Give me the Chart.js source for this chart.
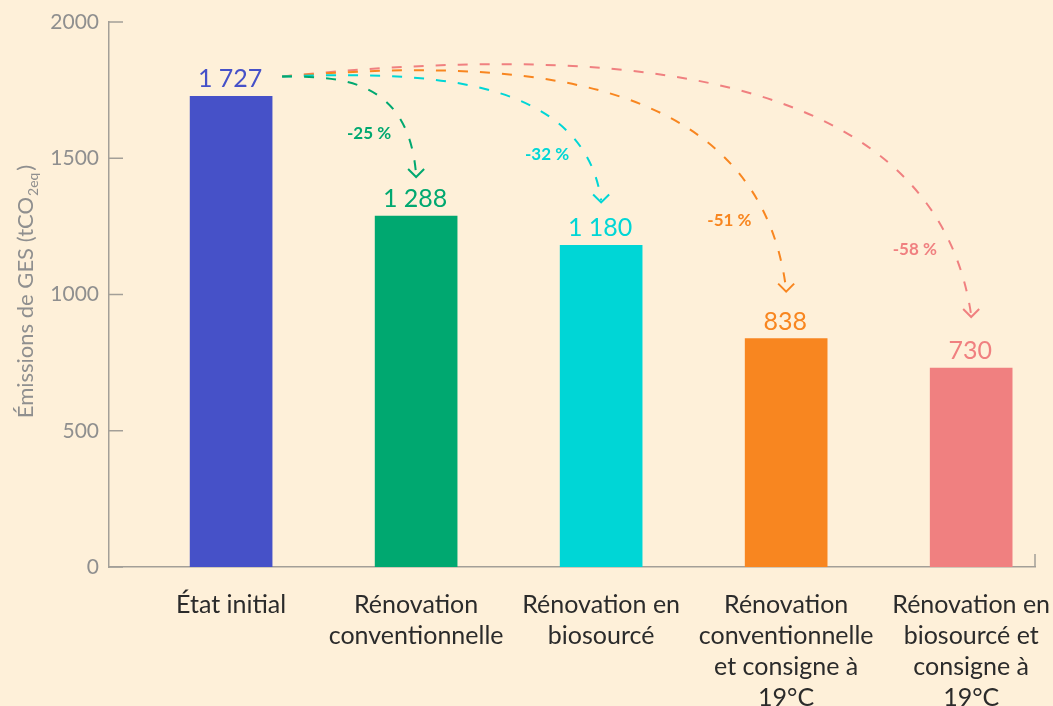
<!DOCTYPE html>
<html>
<head>
<meta charset="utf-8">
<script src="https://cdn.jsdelivr.net/npm/chart.js@4"></script>
<style>
  html, body { margin: 0; padding: 0; background: #fef0d9; }
  canvas { display: block; }
</style>
</head>
<body>
<canvas id="myChart" width="1053" height="706"></canvas>
<script>
const categories = [
    ['État initial'],
    ['Rénovation', 'conventionnelle'],
    ['Rénovation en', 'biosourcé'],
    ['Rénovation', 'conventionnelle', 'et consigne à', '19°C'],
    ['Rénovation en', 'biosourcé et', 'consigne à', '19°C'],
];
const emissions = [1727, 1288, 1180, 838, 730];
const barColors = ['#4651c8', '#00a870', '#00d6d6', '#f88620', '#f08080'];
const yTicks = [0, 500, 1000, 1500, 2000];
const arrowStart = 1800;

const FONT = 'Lato';
const gray = '#8f8f8f';
const axisGray = '#a39f98';

// label above each bar
const valueLabels = {
    id: 'valueLabels',
    afterDatasetsDraw(chart) {
        const ctx = chart.ctx;
        const meta = chart.getDatasetMeta(0);
        ctx.save();
        ctx.font = '25px ' + FONT;
        ctx.textAlign = 'center';
        ctx.textBaseline = 'alphabetic';
        meta.data.forEach((bar, i) => {
            ctx.fillStyle = barColors[i];
            const txt = emissions[i].toLocaleString('fr-FR').replace(/\s/g, ' ');
            ctx.fillText(txt, bar.x - 1, bar.y - 9);
        });
        ctx.restore();
    }
};

// dashed arrows from the initial state to each scenario
const arrows = {
    id: 'arrows',
    afterDatasetsDraw(chart) {
        const ctx = chart.ctx;
        const xs = chart.scales.x, ys = chart.scales.y;
        const meta = chart.getDatasetMeta(0);
        const sx = xs.getPixelForValue(0) + 51;
        const sy = ys.getPixelForValue(arrowStart);
        ctx.save();
        for (let i = emissions.length - 1; i >= 1; i--) {
            const ex = xs.getPixelForValue(i);
            const ey = meta.data[i].y - (35 + 4 * i);
            const dx = ex - sx;
            const rise = Math.max(0, 0.065 * (dx - 250));
            const p1 = [sx + 0.41 * dx, sy - rise];
            const p2 = [ex - 0.057 * dx, sy - rise];
            ctx.strokeStyle = barColors[i];
            ctx.lineWidth = 2;
            ctx.setLineDash([10, 12]);
            ctx.beginPath();
            ctx.moveTo(sx, sy);
            ctx.bezierCurveTo(p1[0], p1[1], p2[0], p2[1], ex, ey - 2);
            ctx.stroke();
            ctx.setLineDash([]);
            ctx.beginPath();
            ctx.moveTo(ex - 8, ey - 8);
            ctx.lineTo(ex, ey);
            ctx.lineTo(ex + 8, ey - 8);
            ctx.stroke();

            // percentage, left of the curve
            const ly = sy + (0.52 + 0.05 * i) * (ey - sy);
            let cx = ex;
            for (let t = 0; t <= 1; t += 0.002) {
                const u = 1 - t;
                const y = u*u*u*sy + 3*u*u*t*p1[1] + 3*u*t*t*p2[1] + t*t*t*ey;
                if (y >= ly) {
                    cx = u*u*u*sx + 3*u*u*t*p1[0] + 3*u*t*t*p2[0] + t*t*t*ex;
                    break;
                }
            }
            const pct = Math.round((emissions[i] - emissions[0]) / emissions[0] * 100);
            ctx.font = 'bold 17px ' + FONT;
            ctx.fillStyle = barColors[i];
            ctx.textAlign = 'right';
            ctx.textBaseline = 'middle';
            ctx.fillText('-' + Math.abs(pct) + ' %', cx - 16, ly);
        }
        ctx.restore();
    }
};

// inward tick marks and axis title
const axisExtras = {
    id: 'axisExtras',
    afterDraw(chart) {
        const ctx = chart.ctx;
        const ys = chart.scales.y;
        const area = chart.chartArea;
        ctx.save();
        ctx.strokeStyle = axisGray;
        ctx.lineWidth = 1.5;
        ctx.beginPath();
        yTicks.forEach(v => {
            const y = ys.getPixelForValue(v);
            ctx.moveTo(area.left, y);
            ctx.lineTo(area.left + 14, y);
        });
        ctx.moveTo(area.right, area.bottom);
        ctx.lineTo(area.right, area.bottom - 13);
        ctx.stroke();

        // y title with subscript
        ctx.translate(33, (area.top + area.bottom) / 2 - 3);
        ctx.rotate(-Math.PI / 2);
        ctx.fillStyle = gray;
        ctx.textBaseline = 'alphabetic';
        ctx.textAlign = 'left';
        const main = 'Émissions de GES (tCO', sub = '2eq', end = ')';
        ctx.font = '22px ' + FONT;
        const w1 = ctx.measureText(main).width, w3 = ctx.measureText(end).width;
        ctx.font = '14px ' + FONT;
        const w2 = ctx.measureText(sub).width + 3;
        let x = -(w1 + w2 + w3) / 2;
        ctx.font = '22px ' + FONT;
        ctx.fillText(main, x, 0);
        ctx.font = '14px ' + FONT;
        ctx.fillText(sub, x + w1 + 1, 5);
        ctx.font = '22px ' + FONT;
        ctx.fillText(end, x + w1 + w2, 0);
        ctx.restore();
    }
};

const data = {
    datasets: [{
        data: emissions.map((v, i) => ({ x: i, y: v })),
        backgroundColor: barColors,
        barThickness: 82,
    }]
};

const config = {
    type: 'bar',
    data: data,
    options: {
        responsive: false,
        animation: false,
        layout: { padding: { top: 22, right: 18, left: 0, bottom: 0 } },
        plugins: {
            legend: { display: false },
            tooltip: { enabled: false },
        },
        scales: {
            x: {
                type: 'linear',
                offset: false,
                min: -0.66,
                max: 4.345,
                grid: { display: false, drawTicks: false, offset: false },
                border: { display: true, color: axisGray, width: 1.5 },
                afterBuildTicks: s => { s.ticks = categories.map((c, i) => ({ value: i })); },
                afterFit: s => {
                    s.height = 139;
                    s.paddingLeft = 0;
                    s.paddingRight = 0;
                },
                ticks: {
                    autoSkip: false,
                    maxRotation: 0,
                    padding: 22,
                    color: '#2b2b2b',
                    font: { family: FONT, size: 25, lineHeight: 1.24 },
                    callback: v => categories[v],
                },
            },
            y: {
                min: 0,
                max: 2000,
                grid: { display: false, drawTicks: false },
                border: { display: true, color: axisGray, width: 1.5 },
                afterFit: s => {
                    s.width = 109;
                    s.paddingTop = 0;
                    s.paddingBottom = 0;
                },
                ticks: {
                    stepSize: 500,
                    padding: 10,
                    color: gray,
                    font: { family: FONT, size: 21 },
                    callback: v => String(v),
                },
            },
        },
    },
    plugins: [valueLabels, arrows, axisExtras],
};

const myChart = new Chart(
    document.getElementById('myChart'),
    config
);
</script>
</body>
</html>
